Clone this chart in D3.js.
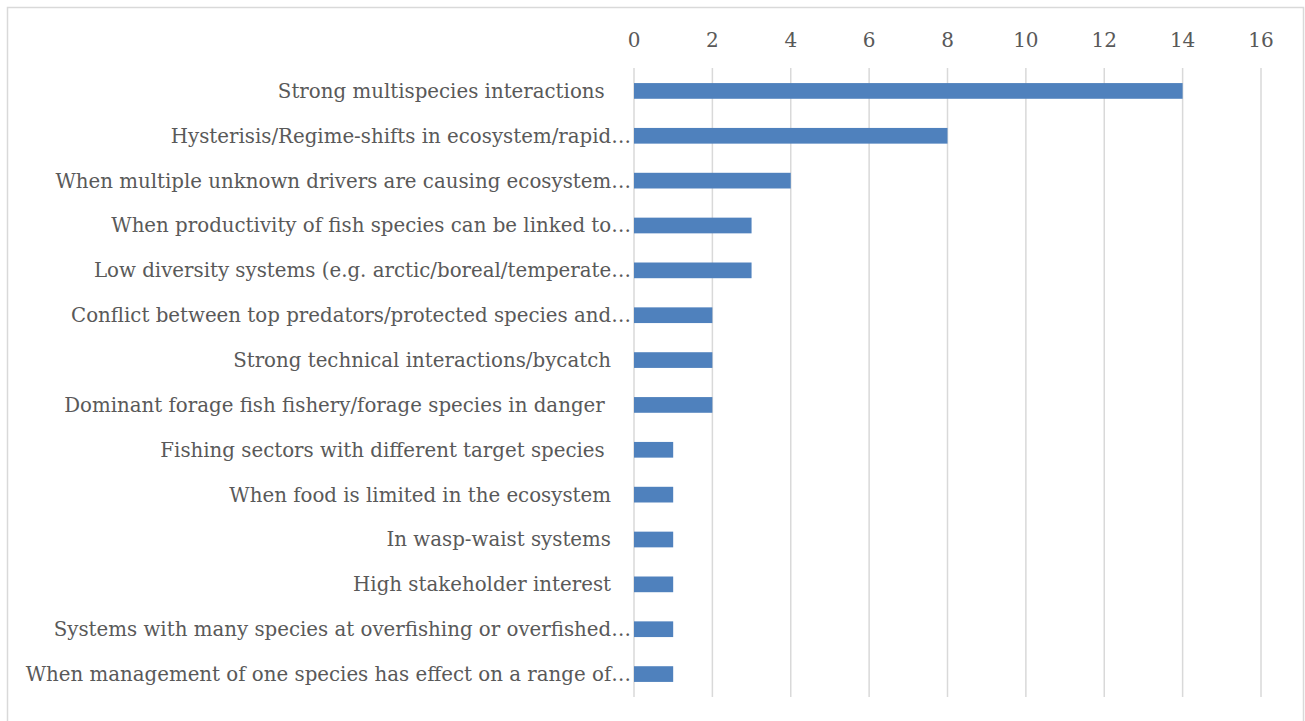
<!DOCTYPE html>
<html>
<head>
<meta charset="utf-8">
<script src="https://cdn.jsdelivr.net/npm/d3@7"></script>
<style>
  body { margin: 0; background: #fff; }
  svg text { font-family: "DejaVu Serif", serif; fill: #595959; white-space: pre; }
</style>
</head>
<body>
<div id="chart"></div>
<script>
var categories = [
  "Strong multispecies interactions ",
  "Hysterisis/Regime-shifts in ecosystem/rapid…",
  "When multiple unknown drivers are causing ecosystem…",
  "When productivity of fish species can be linked to…",
  "Low diversity systems (e.g. arctic/boreal/temperate…",
  "Conflict between top predators/protected species and…",
  "Strong technical interactions/bycatch",
  "Dominant forage fish fishery/forage species in danger ",
  "Fishing sectors with different target species ",
  "When food is limited in the ecosystem",
  "In wasp-waist systems",
  "High stakeholder interest",
  "Systems with many species at overfishing or overfished…",
  "When management of one species has effect on a range of…"
];
var values = [14, 8, 4, 3, 3, 2, 2, 2, 1, 1, 1, 1, 1, 1];
var tickValues = [0, 2, 4, 6, 8, 10, 12, 14, 16];

var W = 1305, H = 721;
var svg = d3.select("#chart").append("svg")
  .attr("width", W)
  .attr("height", H);

// outer frame
svg.append("rect")
  .attr("x", 7.5).attr("y", 7.5)
  .attr("width", 1296).attr("height", 720)
  .style("fill", "none")
  .style("stroke", "#d9d9d9")
  .style("stroke-width", 1.5);

var x = d3.scaleLinear().domain([0, 16]).range([634, 1261]);
var y = d3.scaleBand().domain(categories).range([68.5, 696.5]).paddingInner(0.65).paddingOuter(0.325);

// gridlines
svg.append("g").selectAll("line")
  .data(tickValues).enter()
  .append("line")
  .attr("x1", d => x(d)).attr("x2", d => x(d))
  .attr("y1", 68).attr("y2", 697)
  .style("stroke", "#d9d9d9")
  .style("stroke-width", 1.5);

// top axis labels
svg.append("g").selectAll("text")
  .data(tickValues).enter()
  .append("text")
  .attr("x", d => x(d))
  .attr("y", 40)
  .attr("dy", "0.35em")
  .style("text-anchor", "middle")
  .style("font-size", "20px")
  .text(d => d);

// bars
svg.append("g").selectAll("rect")
  .data(values).enter()
  .append("rect")
  .attr("x", x(0))
  .attr("y", (d, i) => y(categories[i]))
  .attr("width", d => x(d) - x(0))
  .attr("height", y.bandwidth())
  .style("fill", "#4f81bd");

// category labels
svg.append("g").selectAll("text")
  .data(categories).enter()
  .append("text")
  .attr("x", d => d.endsWith("…") ? x(0) - 3 : x(0) - 23)
  .attr("y", d => y(d) + y.bandwidth() / 2)
  .attr("dy", "0.35em")
  .style("text-anchor", "end")
  .style("font-size", "19.8px")
  .text(d => d);
</script>
</body>
</html>
